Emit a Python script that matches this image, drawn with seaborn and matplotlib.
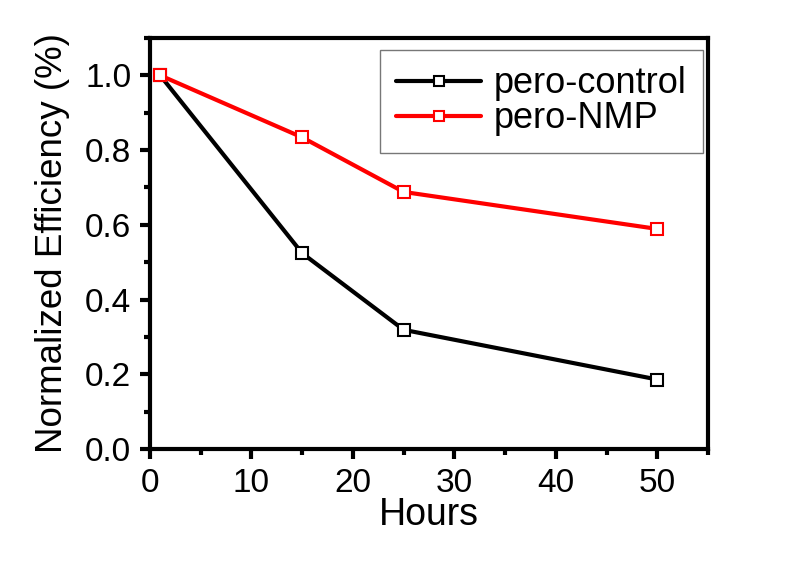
import numpy as np
import pandas as pd
import matplotlib
matplotlib.use("Agg")
import matplotlib.pyplot as plt
import seaborn as sns
from matplotlib.ticker import MultipleLocator
from matplotlib.lines import Line2D

hours = [1, 15, 25, 50]
control = [1.0, 0.524, 0.319, 0.186]
nmp = [1.0, 0.834, 0.688, 0.589]
series_names = ["pero-control", "pero-NMP"]
colors = ["#000000", "#ff0000"]

df = pd.DataFrame({
    "Hours": hours * 2,
    "Eff": control + nmp,
    "Series": [series_names[0]] * 4 + [series_names[1]] * 4,
})

sns.set_style("white")
plt.rcParams["font.family"] = ["Liberation Sans", "DejaVu Sans"]
plt.rcParams["text.color"] = "black"
plt.rcParams["axes.labelcolor"] = "black"
plt.rcParams["xtick.color"] = "black"
plt.rcParams["ytick.color"] = "black"

fig = plt.figure(figsize=(8.1, 5.65), dpi=100)
ax = fig.add_axes([150 / 810, 1 - 449 / 565, (708 - 150) / 810, (449 - 38) / 565])

sns.lineplot(data=df, x="Hours", y="Eff", hue="Series", palette=colors,
             marker="s", markersize=9, markerfacecolor="white",
             markeredgewidth=1.5, linewidth=3, ax=ax, legend=False)
for line, c in zip(ax.lines, colors):
    line.set_markeredgecolor(c)

ax.set_xlim(0, 55)
ax.set_ylim(0, 1.1)
ax.xaxis.set_major_locator(MultipleLocator(10))
ax.xaxis.set_minor_locator(MultipleLocator(5))
ax.yaxis.set_major_locator(MultipleLocator(0.2))
ax.yaxis.set_minor_locator(MultipleLocator(0.1))
ax.yaxis.set_major_formatter(matplotlib.ticker.FormatStrFormatter("%.1f"))

for s in ax.spines.values():
    s.set_linewidth(3)
    s.set_color("black")
ax.tick_params(which="major", direction="out", length=7.5, width=3,
               labelsize=24, bottom=True, left=True, top=False, right=False, pad=6)
ax.tick_params(which="minor", direction="out", length=4, width=3,
               bottom=True, left=True, top=False, right=False)

ax.set_xlabel("Hours", fontsize=27, labelpad=-1)
ax.set_ylabel("Normalized Efficiency (%)", fontsize=26.5, labelpad=11)

handles = [Line2D([], [], color=c, linewidth=3, marker="s", markersize=7,
                  markerfacecolor="white", markeredgecolor=c, markeredgewidth=1.5)
           for c in colors]
leg = ax.legend(handles, series_names, loc="upper right",
                bbox_to_anchor=((703 - 150) / 558, (449 - 50) / 411),
                fontsize=26, frameon=True, fancybox=False, handlelength=2.35,
                borderaxespad=0, handletextpad=0.35, labelspacing=0.0,
                borderpad=0.45)
leg.get_frame().set_edgecolor("#555555")
leg.get_frame().set_linewidth(1)

fig.savefig("out.png", dpi=100)
